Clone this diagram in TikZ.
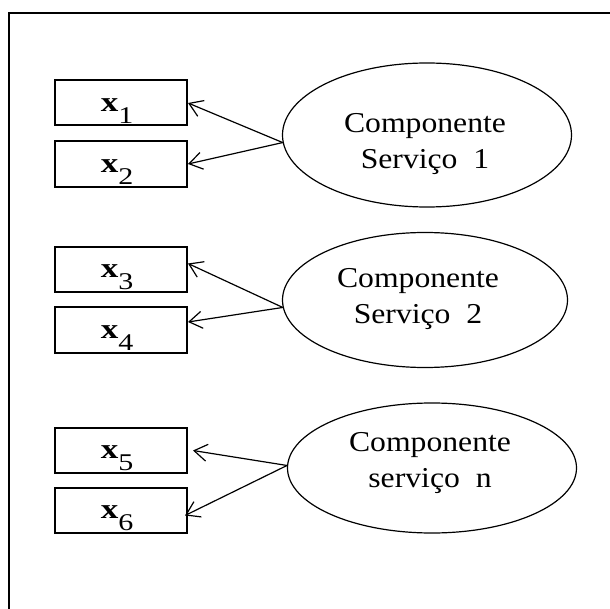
\documentclass[tikz,border=0pt]{standalone}
\usepackage{fontspec}
\setmainfont{Liberation Serif}
\usetikzlibrary{shapes.geometric,arrows.meta,calc}
\begin{document}
\begin{tikzpicture}[x=0.5pt,y=-0.5pt,
  box/.style={draw,line width=1pt,minimum width=66pt,minimum height=22.5pt,inner sep=0pt},
  ell/.style={draw,ellipse,line width=0.6pt,inner sep=0pt},
  etext/.style={align=center,font=\fontsize{14.4}{18}\selectfont,xscale=1.1,transform shape,inner sep=0pt},
  lbl/.style={font=\fontsize{14}{16}\selectfont,xscale=1.25,transform shape,inner sep=0pt},
  arr/.style={-{Straight Barb[length=6.5pt,width=8.5pt]},line width=0.6pt}]
\useasboundingbox (0,0) rectangle (610,609);
\begin{scope}
\clip (0,0) rectangle (610,609);
\draw[line width=1pt] (9,13) rectangle (700,700);
\end{scope}
% boxes
\node[box] (b1) at (121,103) {};
\node[box,minimum height=23pt] (b2) at (121,164) {};
\node[box] (b3) at (121,269.5) {};
\node[box,minimum height=23pt] (b4) at (121,330) {};
\node[box] (b5) at (121,450.5) {};
\node[box] (b6) at (121,510.5) {};
% labels
\node[lbl] (l1) at ($(b1)+(-4,8)$) {\textbf{x}\raisebox{-6pt}{\fontsize{12}{13}\selectfont 1}};
\node[lbl] (l2) at ($(b2)+(-4,8)$) {\textbf{x}\raisebox{-6pt}{\fontsize{12}{13}\selectfont 2}};
\node[lbl] (l3) at ($(b3)+(-4,8)$) {\textbf{x}\raisebox{-6pt}{\fontsize{12}{13}\selectfont 3}};
\node[lbl] (l4) at ($(b4)+(-4,8)$) {\textbf{x}\raisebox{-6pt}{\fontsize{12}{13}\selectfont 4}};
\node[lbl] (l5) at ($(b5)+(-4,8)$) {\textbf{x}\raisebox{-6pt}{\fontsize{12}{13}\selectfont 5}};
\node[lbl] (l6) at ($(b6)+(-4,8)$) {\textbf{x}\raisebox{-6pt}{\fontsize{12}{13}\selectfont 6}};
% ellipses
\node[ell,minimum width=144.5pt,minimum height=72pt] (e1) at (427,135) {};
\node[ell,minimum width=142.5pt,minimum height=67.5pt] (e2) at (425,300) {};
\node[ell,minimum width=144.5pt,minimum height=65pt] (e3) at (432,468) {};
\node[etext] (t1) at (425,144.5) {Componente\\Serviço~~1};
\node[etext] (t2) at (418,299.5) {Componente\\Serviço~~2};
\node[etext] (t3) at (430,463.5) {Componente\\serviço~~n};
% arrows
\draw[arr] (e1.183) -- (b1.east);
\draw[arr] (e1.183) -- (b2.east);
\draw[arr] (e2.183) -- ($(b3.east)+(0,-6)$);
\draw[arr] (e2.183) -- ($(b4.east)+(0,-8)$);
\draw[arr] (e3.179) -- ($(b5.east)+(5,0)$);
\draw[arr] (e3.179) -- ($(b6.east)+(-3,5)$);
\end{tikzpicture}
\end{document}
